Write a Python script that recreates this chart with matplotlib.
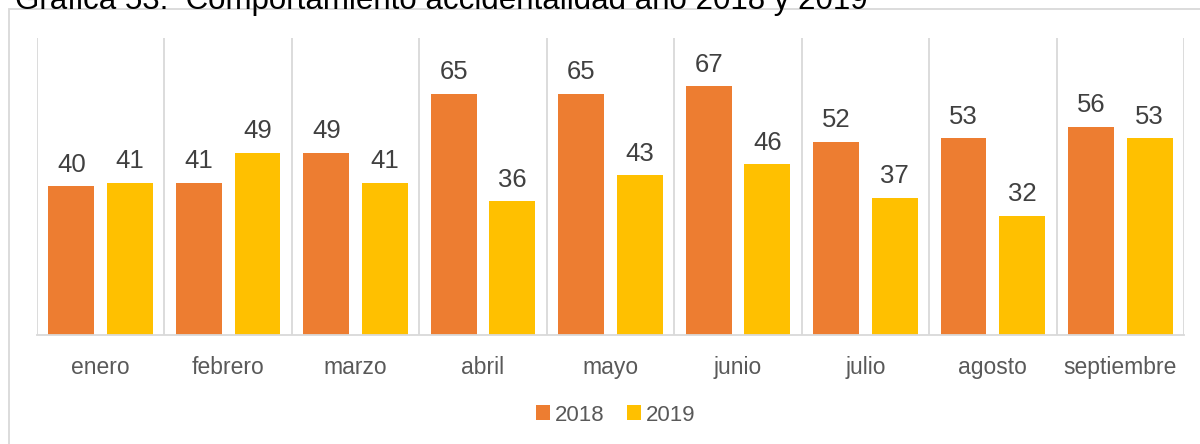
import matplotlib.pyplot as plt
from matplotlib.patches import Rectangle
import numpy as np

plt.rcParams['font.family'] = ['Liberation Sans', 'DejaVu Sans']

# data
months = ['enero', 'febrero', 'marzo', 'abril', 'mayo', 'junio', 'julio', 'agosto', 'septiembre']
y2018 = [40, 41, 49, 65, 65, 67, 52, 53, 56]
y2019 = [41, 49, 41, 36, 43, 46, 37, 32, 53]

c2018 = '#ED7D31'
c2019 = '#FFC000'
grid_c = '#D9D9D9'

fig = plt.figure(figsize=(12, 4.44), dpi=100)
ax = fig.add_axes([37 / 1200, 109 / 444, 1147 / 1200, 297 / 444])

x = np.arange(len(months))
w = 0.36
b1 = ax.bar(x - 0.23, y2018, w, color=c2018, label='2018')
b2 = ax.bar(x + 0.23, y2019, w, color=c2019, label='2019')

for bars in (b1, b2):
    ax.bar_label(bars, padding=7, fontsize=18.5, color='#404040')

ax.set_xlim(-0.5, len(months) - 0.5)
ax.set_ylim(0, 80)

# category separators
for xb in np.arange(-0.5, len(months), 1):
    ax.axvline(xb, color=grid_c, lw=1.3, zorder=0)

for s in ['top', 'left', 'right']:
    ax.spines[s].set_visible(False)
ax.spines['bottom'].set_color(grid_c)
ax.spines['bottom'].set_linewidth(1.3)
ax.set_yticks([])
ax.set_xticks(x)
ax.set_xticklabels(months, fontsize=16.5, color='#595959')
ax.tick_params(axis='x', length=0, pad=15)

fig.legend(handles=[b1, b2], labels=['2018', '2019'], loc='center',
           bbox_to_anchor=(0.513, 29 / 444), ncol=2, frameon=False,
           fontsize=16, labelcolor='#595959', handlelength=0.65, handleheight=0.65,
           handletextpad=0.2, columnspacing=1.0)

# outer chart frame (runs off the right and bottom of the image)
fig.patches.append(Rectangle((9 / 1200, -0.1), 1.2, (444 - 9) / 444 + 0.1,
                             transform=fig.transFigure, fill=False,
                             edgecolor=grid_c, lw=1.3))

# title, clipped at the top edge as in the source image
fig.text(15 / 1200, 1 - 9 / 444, 'Gráfica 53:  Comportamiento accidentalidad año 2018 y 2019',
         fontsize=22.5, color='black', va='baseline', ha='left')

fig.savefig('out.png', dpi=100)
